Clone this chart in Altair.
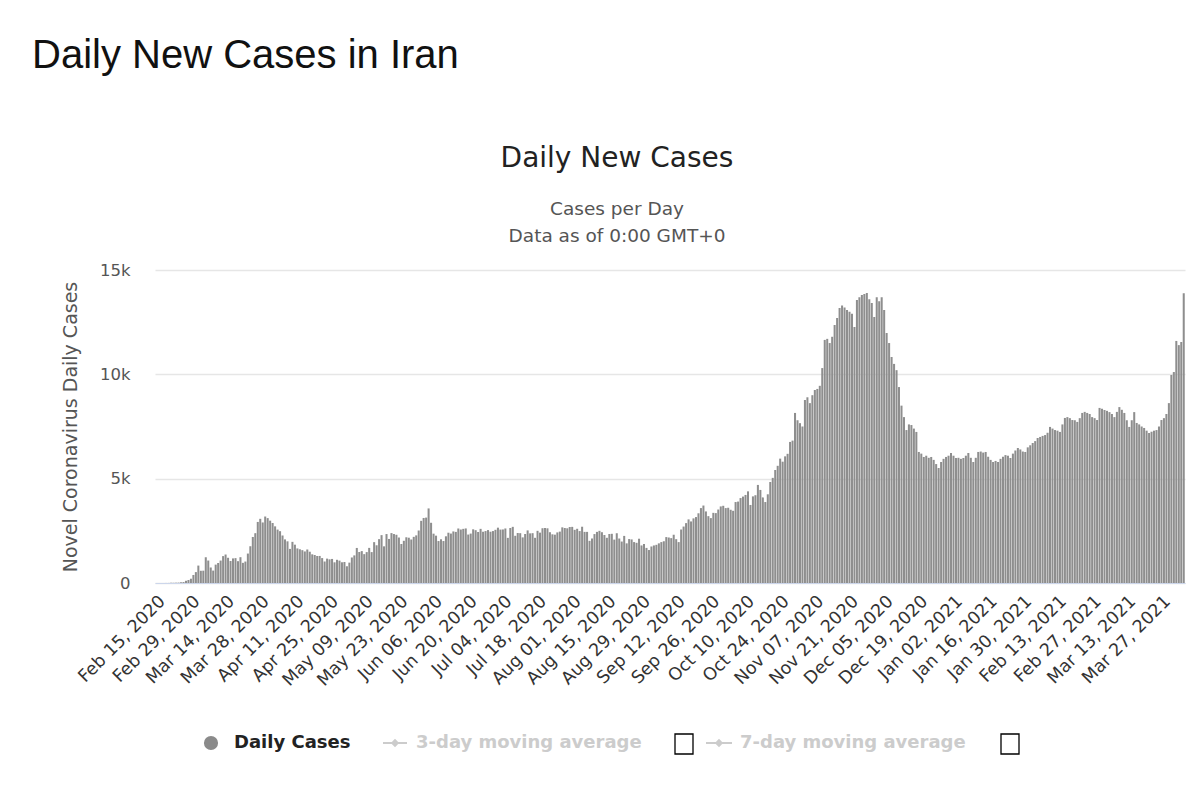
import altair as alt
import pandas as pd

# ---------------- data ----------------
start_date = "2020-02-15"

feb_2020 = [0, 0, 0, 0, 2, 3, 13, 10, 15, 18, 34, 44, 106, 143, 205]
mar_2020 = [385, 523, 835, 586, 591, 1234, 1076, 743, 595, 881, 958, 1075, 1289, 1365, 1209,
            1053, 1178, 1192, 1046, 1237, 966, 1028, 1411, 1762, 2206, 2389, 2926, 3076, 2901,
            3186, 3110]
apr_2020 = [2987, 2875, 2715, 2560, 2483, 2274, 2089, 1997, 1634, 1972, 1837, 1657, 1617, 1574,
            1512, 1606, 1499, 1374, 1343, 1294, 1297, 1194, 1030, 1168, 1134, 1153, 991, 1112,
            1073, 993]
may_2020 = [1006, 802, 976, 1223, 1323, 1680, 1485, 1529, 1383, 1481, 1683, 1481, 1958, 1808,
            2102, 2294, 1757, 2346, 2111, 2392, 2346, 2311, 2180, 1869, 2023, 2191, 2170, 2080,
            2212, 2282, 2516]
jun_2020 = [2979, 3117, 3134, 3574, 2886, 2364, 2269, 2011, 2095, 2011, 2238, 2410, 2369, 2472,
            2449, 2612, 2563, 2595, 2615, 2322, 2368, 2573, 2531, 2445, 2595, 2456, 2489, 2536,
            2457, 2489]
jul_2020 = [2549, 2652, 2560, 2566, 2613, 2163, 2637, 2691, 2262, 2397, 2388, 2186, 2349, 2521,
            2379, 2388, 2166, 2500, 2414, 2625, 2637, 2621, 2434, 2333, 2316, 2425, 2463, 2667,
            2636, 2621, 2685]
aug_2020 = [2690, 2548, 2598, 2489, 2697, 2450, 2450, 2020, 2133, 2345, 2450, 2500, 2434, 2300,
            2166, 2349, 2358, 2079, 2385, 2132, 1987, 2257, 1900, 2106, 2088, 1961, 1926, 2122,
            1800, 1870, 1682]
sep_2020 = [1580, 1750, 1800, 1830, 1900, 1960, 2000, 2200, 2180, 2150, 2313, 2100, 1960, 2564,
            2705, 2870, 3049, 2950, 3097, 3160, 3341, 3590, 3712, 3430, 3204, 3110, 3362, 3350,
            3521, 3670]
oct_2020 = [3700, 3590, 3606, 3510, 3460, 3880, 3902, 4070, 4142, 4220, 4392, 3740, 4151, 4206,
            4700, 4460, 4103, 3880, 4251, 4840, 5039, 5415, 5616, 5960, 5814, 6070, 6191, 6760,
            6824, 8150, 7800]
nov_2020 = [7660, 7500, 8770, 8900, 8620, 9000, 9250, 9300, 9450, 10300, 11650, 11700, 11500,
            11800, 12360, 12700, 13180, 13300, 13200, 13080, 13000, 12900, 12270, 13560, 13700,
            13800, 13850, 13900, 13600, 13420]
dec_2020 = [12750, 13700, 13500, 13700, 13080, 11980, 11500, 10830, 10500, 10200, 9390, 8500,
            7950, 7330, 7600, 7570, 7400, 7240, 6280, 6200, 6040, 6100, 6000, 6040, 5900, 5700,
            5510, 5800, 5950, 6040, 6100]
jan_2021 = [6230, 6100, 5990, 6000, 5950, 5990, 6100, 6230, 6000, 5800, 6000, 6280, 6300, 6250,
            6280, 6050, 5900, 5800, 5850, 5800, 5950, 6050, 6130, 6100, 5990, 6200, 6350, 6470,
            6400, 6300, 6280]
feb_2021 = [6500, 6600, 6710, 6800, 6950, 7000, 7050, 7090, 7200, 7480, 7400, 7330, 7300, 7240,
            7600, 7910, 7950, 7900, 7810, 7800, 7720, 7900, 8150, 8200, 8150, 8100, 7950, 7900]
mar_2021 = [7810, 8390, 8350, 8290, 8250, 8190, 8100, 7950, 8200, 8430, 8300, 8150, 7800, 7480,
            7800, 8190, 7670, 7600, 7500, 7430, 7300, 7190, 7250, 7300, 7330, 7500, 7810, 7900,
            8100, 8620, 9970]
apr_2021 = [10110, 11600, 11400, 11550, 13890]

tick_labels = ["Feb 15, 2020", "Feb 29, 2020", "Mar 14, 2020", "Mar 28, 2020", "Apr 11, 2020",
               "Apr 25, 2020", "May 09, 2020", "May 23, 2020", "Jun 06, 2020", "Jun 20, 2020",
               "Jul 04, 2020", "Jul 18, 2020", "Aug 01, 2020", "Aug 15, 2020", "Aug 29, 2020",
               "Sep 12, 2020", "Sep 26, 2020", "Oct 10, 2020", "Oct 24, 2020", "Nov 07, 2020",
               "Nov 21, 2020", "Dec 05, 2020", "Dec 19, 2020", "Jan 02, 2021", "Jan 16, 2021",
               "Jan 30, 2021", "Feb 13, 2021", "Feb 27, 2021", "Mar 13, 2021", "Mar 27, 2021"]
y_ticks = [0, 5000, 10000, 15000]

cases = (feb_2020 + mar_2020 + apr_2020 + may_2020 + jun_2020 + jul_2020 + aug_2020 + sep_2020
         + oct_2020 + nov_2020 + dec_2020 + jan_2021 + feb_2021 + mar_2021 + apr_2021)
days = pd.date_range(start_date, periods=len(cases)).strftime("%b %d, %Y").tolist()
df = pd.DataFrame({"day": days, "cases": cases})

W, H = 1030, 313
one = pd.DataFrame({"k": [0]})

bars = alt.Chart(df).mark_bar(color="#8e8e8e").encode(
    x=alt.X("day:N", sort=None,
            scale=alt.Scale(paddingInner=0.18, paddingOuter=0.1),
            axis=alt.Axis(values=tick_labels, labelAngle=-45, labelFontSize=17.5,
                          labelFont="DejaVu Sans", labelColor="#333333", ticks=False,
                          tickSize=0, labelPadding=9, domainColor="#ccd6eb",
                          labelOverlap=False, grid=False, title=None)),
    y=alt.Y("cases:Q", scale=alt.Scale(domain=[0, 15000], nice=False),
            axis=alt.Axis(values=y_ticks,
                          labelExpr="datum.value == 0 ? '0' : (datum.value / 1000) + 'k'",
                          labelFontSize=16.5, labelFont="DejaVu Sans", labelColor="#555555",
                          ticks=False, tickSize=0, labelPadding=25, domain=False,
                          gridColor="#e6e6e6", gridWidth=1.5,
                          title="Novel Coronavirus Daily Cases", titleFont="DejaVu Sans",
                          titleFontSize=19, titleFontWeight="normal", titleColor="#555555",
                          titleX=-85, titleY=H / 2, titleAngle=-90, titleAlign="center",
                          titleBaseline="middle")),
)


def txt(s, x, y, size, color, font="DejaVu Sans", align="left", weight="normal",
        baseline="alphabetic"):
    return alt.Chart(one).mark_text(text=s, align=align, baseline=baseline, font=font,
                                    fontSize=size, color=color, fontWeight=weight).encode(
        x=alt.value(x), y=alt.value(y))


layers = [
    bars,
    txt("Daily New Cases in Iran", -123, -202, 40, "#111111", font="Liberation Sans"),
    txt("Daily New Cases", 462, -103, 28, "#222222", align="center"),
    txt("Cases per Day", 462, -55, 18.5, "#555555", align="center"),
    txt("Data as of 0:00 GMT+0", 462, -28, 18.5, "#555555", align="center"),
    # legend
    alt.Chart(one).mark_point(shape="circle", filled=True, size=200, color="#8a8a8a",
                              opacity=1).encode(x=alt.value(56), y=alt.value(473)),
    txt("Daily Cases", 79, 473, 18, "#222222", weight="bold", baseline="middle"),
    alt.Chart(one).mark_rule(color="#cccccc", strokeWidth=2).encode(
        x=alt.value(228), x2=alt.value(252), y=alt.value(473)),
    alt.Chart(one).mark_point(shape="diamond", filled=True, size=70, color="#cccccc",
                              opacity=1).encode(x=alt.value(240), y=alt.value(473)),
    txt("3-day moving average", 261, 473, 18, "#cccccc", weight="bold", baseline="middle"),
    alt.Chart(one).mark_rect(fill="white", stroke="black", strokeWidth=1.3).encode(
        x=alt.value(520), x2=alt.value(538), y=alt.value(464), y2=alt.value(484)),
    alt.Chart(one).mark_rule(color="#cccccc", strokeWidth=2).encode(
        x=alt.value(551), x2=alt.value(577), y=alt.value(473)),
    alt.Chart(one).mark_point(shape="diamond", filled=True, size=70, color="#cccccc",
                              opacity=1).encode(x=alt.value(564), y=alt.value(473)),
    txt("7-day moving average", 585, 473, 18, "#cccccc", weight="bold", baseline="middle"),
    alt.Chart(one).mark_rect(fill="white", stroke="black", strokeWidth=1.3).encode(
        x=alt.value(846), x2=alt.value(864), y=alt.value(464), y2=alt.value(484)),
]

chart = alt.layer(*layers).properties(
    width=W, height=H,
    autosize=alt.AutoSizeParams(type="none"),
    padding={"left": 147, "top": 262, "right": 5, "bottom": 200},
    background="white",
).configure_view(stroke=None)

chart.save("out.html", embed_options={"renderer": "svg", "actions": False})
